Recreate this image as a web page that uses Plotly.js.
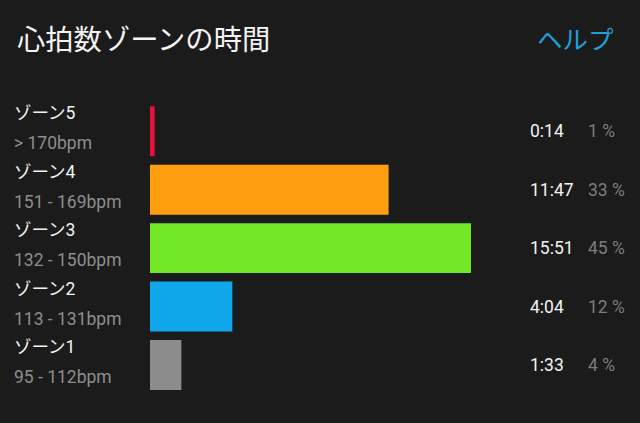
<!DOCTYPE html>
<html>
<head>
<meta charset="utf-8">
<script src="https://cdn.plot.ly/plotly-3.0.1.min.js"></script>
<style>
html,body{margin:0;padding:0;background:#1b1b1b;}
#chart{width:640px;height:423px;}
</style>
</head>
<body>
<div id="chart"></div>
<script>
const zones = ["ゾーン5", "ゾーン4", "ゾーン3", "ゾーン2", "ゾーン1"];
const ranges = ["> 170bpm", "151 - 169bpm", "132 - 150bpm", "113 - 131bpm", "95 - 112bpm"];
const seconds = [14, 707, 951, 244, 93];
const times = ["0:14", "11:47", "15:51", "4:04", "1:33"];
const percents = ["1 %", "33 %", "45 %", "12 %", "4 %"];
const colors = ["#e8113b", "#ff9e0e", "#72e826", "#10a8ea", "#8c8c8c"];

const FONT = "Roboto, 'Noto Sans CJK JP', sans-serif";

const trace = {
  type: "bar",
  orientation: "h",
  x: seconds,
  y: zones,
  marker: {color: colors, line: {width: 0}},
  hoverinfo: "skip"
};

const annotations = [];
zones.forEach((z, i) => {
  annotations.push({
    xref: "paper", yref: "y", x: 0, y: z, xshift: -138, yshift: 18,
    xanchor: "left", yanchor: "middle", showarrow: false,
    text: z, font: {family: FONT, size: 17.5, color: "#f2f2f2"}
  });
  annotations.push({
    xref: "paper", yref: "y", x: 0, y: z, xshift: -138, yshift: -12,
    xanchor: "left", yanchor: "middle", showarrow: false,
    text: ranges[i], font: {family: FONT, size: 17.5, color: "#8e8e8e"}
  });
  annotations.push({
    xref: "paper", yref: "y", x: 0, y: z, xshift: 378, yshift: 0,
    xanchor: "left", yanchor: "middle", showarrow: false,
    text: times[i], font: {family: FONT, size: 17.5, color: "#f2f2f2"}
  });
  annotations.push({
    xref: "paper", yref: "y", x: 0, y: z, xshift: 436, yshift: 0,
    xanchor: "left", yanchor: "middle", showarrow: false,
    text: percents[i], font: {family: FONT, size: 17.5, color: "#7d7d7d"}
  });
});

annotations.push({
  xref: "paper", yref: "paper", x: 0, y: 1, xshift: -135, yshift: 62,
  xanchor: "left", yanchor: "middle", showarrow: false,
  text: "心拍数ゾーンの時間", font: {family: FONT, size: 28.3, color: "#f4f4f4"}
});
annotations.push({
  xref: "paper", yref: "paper", x: 0, y: 1, xshift: 385, yshift: 62,
  xanchor: "left", yanchor: "middle", showarrow: false,
  text: "ヘルプ", font: {family: FONT, size: 25.5, color: "#1f9fd6"}
});

const layout = {
  width: 640, height: 423,
  paper_bgcolor: "#1b1b1b", plot_bgcolor: "#1b1b1b",
  margin: {l: 150, r: 0, t: 102, b: 28},
  bargap: 0.145,
  showlegend: false,
  xaxis: {range: [0, 1452], showgrid: false, zeroline: false, showticklabels: false, showline: false, fixedrange: true},
  yaxis: {type: "category", categoryorder: "array", categoryarray: zones, autorange: "reversed",
          showgrid: false, zeroline: false, showticklabels: false, showline: false, fixedrange: true},
  annotations: annotations
};

Plotly.newPlot("chart", [trace], layout, {displayModeBar: false, staticPlot: true});
</script>
</body>
</html>
